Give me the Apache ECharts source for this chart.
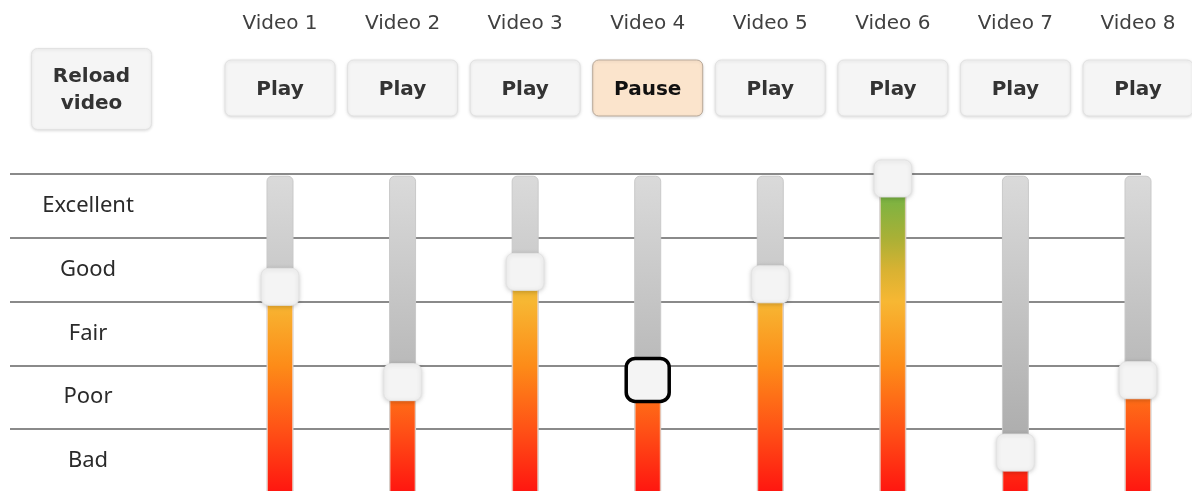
<!DOCTYPE html>
<html>
<head>
<meta charset="utf-8">
<script src="https://cdn.jsdelivr.net/npm/echarts@6/dist/echarts.min.js"></script>
<style>
html,body{margin:0;padding:0;background:#fff;}
#chart{width:1192px;height:491px;}
</style>
</head>
<body>
<div id="chart"></div>
<script>
// ---- data ----
const videos = ['Video 1','Video 2','Video 3','Video 4','Video 5','Video 6','Video 7','Video 8'];
const scores = [64.6, 34.7, 69.3, 35.4, 65.4, 98.6, 12.6, 35.3];
const buttonLabels = ['Play','Play','Play','Pause','Play','Play','Play','Play'];
const selected = [0, 0, 0, 1, 0, 0, 0, 0];
const ratingLabels = ['Bad','Poor','Fair','Good','Excellent'];
const ratingMin = 0;
const ratingMax = 100;
const ratingStep = 20;

// ---- style constants ----
const TRACK_MAX = 99.3;
const TRACK_W = 26;
const FILL_STOPS = [
  {offset:0.00, color:'#72b043'},
  {offset:0.08, color:'#7cb342'},
  {offset:0.20, color:'#a9b036'},
  {offset:0.30, color:'#d8b232'},
  {offset:0.40, color:'#f7b733'},
  {offset:0.60, color:'#fd8c18'},
  {offset:0.80, color:'#ff5216'},
  {offset:1.00, color:'#ff1510'}
];
const TRACK_STOPS = [
  {offset:0, color:'#dadada'},
  {offset:1, color:'#a4a4a4'}
];

const chart = echarts.init(document.getElementById('chart'), null, {renderer:'canvas'});

function renderSlider(params, api) {
  const i = api.value(0), v = api.value(1), sel = api.value(2);
  const c = api.coord([i, v]);
  const cx = c[0], cy = c[1];
  const yBottom = api.coord([i, ratingMin])[1];
  const yTop = api.coord([i, ratingMax])[1];
  const yTrack = api.coord([i, TRACK_MAX])[1];
  const children = [];
  children.push({
    type:'rect',
    shape:{x:cx - TRACK_W/2, y:yTrack, width:TRACK_W, height:yBottom - yTrack + 4, r:[5,5,0,0]},
    style:{
      fill:new echarts.graphic.LinearGradient(0, yTrack, 0, yBottom, TRACK_STOPS, true),
      stroke:'#c9c9c9', lineWidth:1
    }
  });
  children.push({
    type:'rect',
    shape:{x:cx - TRACK_W/2 + 0.5, y:cy, width:TRACK_W - 1, height:yBottom - cy + 4},
    style:{
      fill:new echarts.graphic.LinearGradient(0, yTop, 0, yBottom, FILL_STOPS, true),
      stroke:'rgba(255,220,200,0.6)', lineWidth:1
    }
  });
  if (sel) {
    const s = 43;
    children.push({
      type:'rect',
      shape:{x:cx - s/2, y:cy - s/2, width:s, height:s, r:9},
      style:{fill:'#f4f4f4', stroke:'#000', lineWidth:3.5}
    });
  } else {
    const w = 37.5, h = 37;
    children.push({
      type:'rect',
      shape:{x:cx - w/2, y:cy - h/2, width:w, height:h, r:7},
      style:{fill:'#f4f4f4', stroke:'#e3e3e3', lineWidth:1,
             shadowBlur:4, shadowColor:'rgba(0,0,0,0.18)', shadowOffsetY:1}
    });
  }
  const by = yTop - 86;
  const isPause = buttonLabels[i] === 'Pause';
  const bw = 110, bh = 56;
  children.push({
    type:'rect',
    shape:{x:cx - bw/2, y:by - bh/2, width:bw, height:bh, r:6},
    style:{fill:isPause ? '#fbe4cc' : '#f5f5f5', stroke:isPause ? '#b9a999' : '#e2e2e2', lineWidth:1,
           shadowBlur:3, shadowColor:'rgba(0,0,0,0.12)', shadowOffsetY:1}
  });
  children.push({
    type:'text',
    style:{text:buttonLabels[i], x:cx, y:by + 1.5, align:'center', verticalAlign:'middle',
           fontFamily:'DejaVu Sans', fontWeight:'bold', fontSize:20,
           fill:isPause ? '#111' : '#333'}
  });
  return {type:'group', children:children};
}

const option = {
  backgroundColor:'#ffffff',
  animation:false,
  grid:[
    {left:10, right:51, top:174, height:318.75, outerBoundsMode:'none'},
    {left:280, right:54, top:174, height:318.75, outerBoundsMode:'none'}
  ],
  xAxis:[
    {type:'value', gridIndex:0, show:false, min:0, max:1},
    {type:'category', gridIndex:1, data:videos, boundaryGap:false, position:'top',
     axisLine:{show:false}, axisTick:{show:false}, splitLine:{show:false},
     axisLabel:{color:'#404040', fontFamily:'DejaVu Sans', fontSize:20, margin:150, verticalAlign:'middle'}}
  ],
  yAxis:[
    {type:'value', gridIndex:0, position:'left', min:ratingMin, max:ratingMax, interval:ratingStep,
     axisLine:{show:false}, axisTick:{show:false}, axisLabel:{show:false},
     splitLine:{show:true, showMinLine:false, lineStyle:{color:'#8a8a8a', width:2}}},
    {type:'category', gridIndex:0, position:'left', offset:0, data:ratingLabels, boundaryGap:true,
     axisLine:{show:false}, axisTick:{show:false}, splitLine:{show:false},
     axisLabel:{inside:true, margin:78, align:'center', verticalAlign:'middle',
                color:'#2a2a2a', fontFamily:'Noto Sans', fontSize:22}},
    {type:'value', gridIndex:1, min:ratingMin, max:ratingMax, show:false}
  ],
  graphic:[
    {type:'group', left:31, top:48, children:[
      {type:'rect', shape:{x:0, y:0, width:120, height:81, r:6},
       style:{fill:'#f5f5f5', stroke:'#e2e2e2', lineWidth:1,
              shadowBlur:3, shadowColor:'rgba(0,0,0,0.12)', shadowOffsetY:1}},
      {type:'text', style:{text:'Reload\nvideo', x:60, y:41.5, align:'center', verticalAlign:'middle',
              fontFamily:'DejaVu Sans', fontWeight:'bold', fontSize:20, lineHeight:27, fill:'#333'}}
    ]}
  ],
  series:[
    {type:'custom', coordinateSystem:'cartesian2d', xAxisIndex:1, yAxisIndex:2, clip:false,
     z:5,
     data:scores.map((v, i) => [i, v, selected[i]]),
     renderItem:renderSlider}
  ]
};
chart.setOption(option);
</script>
</body>
</html>
